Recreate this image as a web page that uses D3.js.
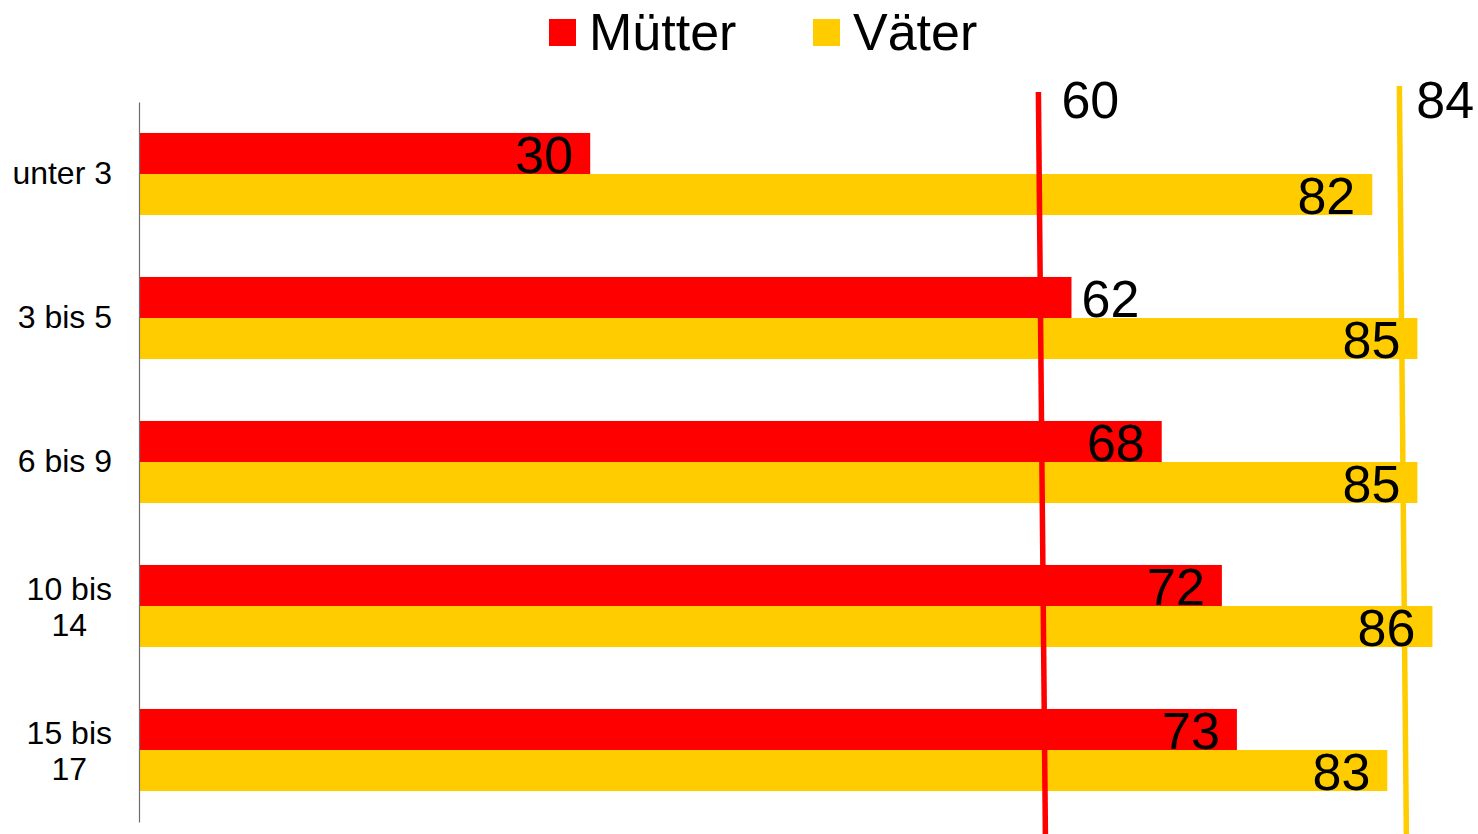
<!DOCTYPE html>
<html>
<head>
<meta charset="utf-8">
<script src="https://cdn.jsdelivr.net/npm/d3@7"></script>
<style>
  body { margin: 0; background: #fff; }
  text { font-family: "Liberation Sans", Arial, sans-serif; fill: #000; }
</style>
</head>
<body>
<div id="chart"></div>
<script>
const categories = ["unter 3", "3 bis 5", "6 bis 9", "10 bis 14", "15 bis 17"];
const muetter = [30, 62, 68, 72, 73];
const vaeter = [82, 85, 85, 86, 83];
const seriesNames = ["Mütter", "Väter"];
const averages = [60, 84];

const width = 1478, height = 834;
const colors = ["#ff0000", "#ffcc00"];
const series = [muetter, vaeter];

const svg = d3.select("#chart").append("svg")
    .attr("width", width)
    .attr("height", height);

const x = d3.scaleLinear().domain([0, 90]).range([139, 139 + 90 * 15.04]);
const y = d3.scaleBand().domain(categories).range([102, 822])
    .paddingInner(0.43).paddingOuter(0.215);
const ySub = d3.scaleBand().domain([0, 1]).range([0, y.bandwidth()]);

// bars
series.forEach((vals, s) => {
    svg.append("g").selectAll("rect")
        .data(vals)
        .enter()
        .append("rect")
        .attr("x", x(0))
        .attr("y", (d, i) => y(categories[i]) + ySub(s))
        .attr("width", d => x(d) - x(0))
        .attr("height", ySub.bandwidth())
        .attr("fill", colors[s]);
});

// axis with wrapped labels
const axis = svg.append("g")
    .attr("transform", `translate(${x(0)},0)`)
    .call(d3.axisLeft(y).tickSize(0).tickSizeOuter(0).tickPadding(27));
axis.select(".domain").attr("stroke", "#6e6e6e").attr("stroke-width", 1.2);
axis.selectAll(".tick text")
    .attr("font-size", 32)
    .attr("font-family", "Liberation Sans, Arial, sans-serif")
    .each(function (d) {
        const t = d3.select(this);
        const words = d.split(" ");
        const lines = [];
        let cur = [];
        t.text(null);
        const probe = t.append("tspan");
        const measure = s => { probe.text(s); return probe.node().getComputedTextLength(); };
        words.forEach(w => {
            const test = cur.concat(w).join(" ");
            if (cur.length && measure(test) > 108) {
                lines.push(cur.join(" "));
                cur = [w];
            } else {
                cur.push(w);
            }
        });
        lines.push(cur.join(" "));
        const maxW = d3.max(lines, measure);
        probe.remove();
        t.attr("dy", null);
        if (lines.length === 1) {
            t.attr("text-anchor", "end").attr("x", -27).attr("y", 10).text(lines[0]);
        } else {
            const cx = -27 - maxW / 2;
            t.attr("text-anchor", "middle").attr("y", null);
            lines.forEach((l, k) => {
                t.append("tspan")
                    .attr("x", cx)
                    .attr("y", 10 - (lines.length - 1) * 16 + k * 36)
                    .text(l);
            });
        }
    });

// average lines
const lineTops = [92, 86];
const labelGap = [23, 17];
averages.forEach((v, s) => {
    svg.append("line")
        .attr("x1", x(v) - 3).attr("y1", lineTops[s])
        .attr("x2", x(v) + 4).attr("y2", height)
        .attr("stroke", colors[s])
        .attr("stroke-width", 5.5);
    svg.append("text")
        .attr("x", x(v) - 3 + labelGap[s])
        .attr("y", 118)
        .attr("font-size", 52)
        .text(v);
});

// value labels
series.forEach((vals, s) => {
    svg.append("g").selectAll("text")
        .data(vals)
        .enter()
        .append("text")
        .attr("font-size", 52)
        .each(function (d, i) {
            const end = x(d);
            const labelMid = end - 17 - 29;
            const outside = s === 0 && Math.abs(labelMid - x(averages[0])) < 40;
            d3.select(this)
                .attr("x", outside ? end + 10 : end - 17)
                .attr("text-anchor", outside ? "start" : "end")
                .attr("y", y(categories[i]) + ySub(s) + ySub.bandwidth() - 1)
                .text(d);
        });
});

// legend
const legendX = [549, 813];
const legend = svg.append("g");
seriesNames.forEach((n, s) => {
    legend.append("rect")
        .attr("x", legendX[s]).attr("y", 19)
        .attr("width", 27).attr("height", 27)
        .attr("fill", colors[s]);
    legend.append("text")
        .attr("x", legendX[s] + 40)
        .attr("y", 50)
        .attr("font-size", 52)
        .text(n);
});
</script>
</body>
</html>
